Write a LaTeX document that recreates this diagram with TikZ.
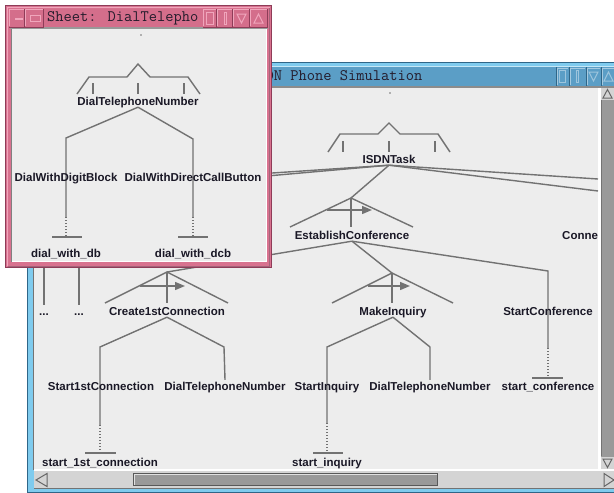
\documentclass[tikz,border=0pt]{standalone}
\usepackage{fontspec}
\usetikzlibrary{arrows.meta}
\newfontfamily\labelfont{Liberation Sans}

\definecolor{sheetbg}{HTML}{EDEDED}
\definecolor{edgegray}{HTML}{727272}
\definecolor{labeltext}{HTML}{1A1826}
\definecolor{pinkframe}{HTML}{D8728F}
\definecolor{pinktitle}{HTML}{D46E8B}
\definecolor{pinklight}{HTML}{F0A6BC}
\definecolor{pinkdark}{HTML}{8E3C58}
\definecolor{bluetitle}{HTML}{5B9EC6}
\definecolor{bluelight}{HTML}{7FCBEE}
\definecolor{bluedark}{HTML}{2F6688}
\definecolor{barbase}{HTML}{D4D4D4}
\definecolor{thumbgray}{HTML}{999999}
\definecolor{titleink}{HTML}{241C2C}

\pgfdeclarelayer{backwin}
\pgfdeclarelayer{backlines}
\pgfdeclarelayer{frontwin}
\pgfdeclarelayer{frontlines}
\pgfdeclarelayer{fronttext}
\pgfsetlayers{backwin,backlines,main,frontwin,frontlines,fronttext}

\begin{document}
\begin{tikzpicture}[x=1pt,y=-1pt,
  lbl/.style={font=\labelfont\bfseries\fontsize{11.5}{13}\selectfont, text=labeltext,
    inner xsep=0pt, inner ysep=1pt, text height=9pt, text depth=1pt},
  wintitle/.style={font=\ttfamily\fontsize{16}{16}\selectfont, text=titleink,
    inner sep=0pt, anchor=west},
  edge/.style={draw=edgegray, line width=1.4pt},
  weak/.style={draw=edgegray, line width=1.3pt, dash pattern=on 1.4pt off 1.6pt},
  seqarrow/.style={draw=edgegray, line width=1.4pt, -{Triangle[length=10pt,width=8pt]}},
  bevel/.style={line width=1pt},
]
\useasboundingbox (0,0) rectangle (614,493);

% ================= simulation window (behind) =================
\begin{pgfonlayer}{backwin}
  \fill[white] (0,0) rectangle (614,493);
  % frame
  \fill[bluelight] (27,62) rectangle (614,493);
  \draw[bluedark, line width=1pt] (27.5,493) -- (27.5,62.5) -- (614,62.5);
  \draw[bluedark, line width=1pt] (27,492.5) -- (614,492.5);
  % title bar
  \fill[bluetitle] (31,66) rectangle (614,86);
  \draw[white!55!bluelight, bevel] (31,66.5) -- (614,66.5);
  \fill[black!45] (31,86) rectangle (614,88);
  % title bar buttons
  \foreach \a/\b in {556/569, 569/586, 586/601, 601/617} {
    \draw[bluedark, bevel] (\a+0.5,67) -- (\a+0.5,85.5);
    \draw[white!45!bluetitle, bevel] (\a+1.5,84.5) -- (\a+1.5,68) -- (\b-1,68);
  }
  \draw[white!40!bluetitle, bevel] (559.5,70.5) rectangle (565.5,82.5);
  \draw[white!40!bluetitle, bevel] (576.5,70.5) rectangle (578.5,82.5);
  \draw[white!40!bluetitle, bevel] (589,72) -- (598,72) -- (593.5,81) -- cycle;
  \draw[white!40!bluetitle, bevel] (604,81) -- (613,81) -- (608.5,72) -- cycle;
  \node[wintitle] (simtitle) at (249,76) {ISDN Phone Simulation};
  % drawing area
  \fill[sheetbg] (34,88) rectangle (598,469);
  \draw[black!55, bevel] (33.5,88) -- (33.5,470);
  % vertical scrollbar
  \fill[white] (598,88) rectangle (601,470);
  \fill[thumbgray] (601,88) rectangle (614,470);
  \draw[black!55, bevel] (601.5,100) -- (601.5,456);
  \fill[barbase] (601,88) rectangle (614,100);
  \draw[black!60, bevel] (603,98) -- (612,98) -- (607.5,89.5) -- cycle;
  \fill[barbase] (601,457) rectangle (614,470);
  \draw[black!60, bevel] (603,459) -- (612,459) -- (607.5,467.5) -- cycle;
  % horizontal scrollbar
  \fill[white] (34,469) rectangle (614,471);
  \fill[barbase] (34,471) rectangle (614,489);
  \draw[black!55, bevel] (34,488.5) -- (614,488.5);
  \draw[black!60, bevel] (47,473.5) -- (36,480) -- (47,486.5) -- cycle;
  \fill[thumbgray] (133,473) rectangle (438,486);
  \draw[black!65, bevel] (133.5,473.5) rectangle (437.5,485.5);
  \draw[white!70!thumbgray, bevel] (134.5,484.5) -- (134.5,474.5) -- (436.5,474.5);
  \draw[black!60, bevel] (604,473.5) -- (614,480) -- (604,486.5) -- cycle;
\end{pgfonlayer}

% ---------- task tree in the simulation window ----------
\fill[edgegray] (390,93) circle (0.8);

\node[lbl] (isdn) at (389,159) {ISDNTask};
\node[lbl] (estab) at (352,235) {EstablishConference};
\begin{scope}
  \clip (34,88) rectangle (597,469);
  \node[lbl, anchor=west] (connect) at (562,235) {Connect};
\end{scope}
\node[lbl] (create) at (167,311) {Create1stConnection};
\node[lbl] (make) at (393,311) {MakeInquiry};
\node[lbl] (startconf) at (548,311) {StartConference};
\node[lbl] (dotsA) at (44,311) {...};
\node[lbl] (dotsB) at (79,311) {...};
\node[lbl] (startfirst) at (101,386) {Start1stConnection};
\node[lbl] (dialB) at (225,386) {DialTelephoneNumber};
\node[lbl] (startinq) at (327,386) {StartInquiry};
\node[lbl] (dialC) at (430,386) {DialTelephoneNumber};
\node[lbl] (sconf) at (548,386) {start\_conference};
\node[lbl] (sfirst) at (100,462) {start\_1st\_connection};
\node[lbl] (sinq) at (327,462) {start\_inquiry};

\coordinate (leftA) at (250,174.5);
\coordinate (leftB) at (250,177.5);
\coordinate (rightA) at (598,179);
\coordinate (rightB) at (598,191);
\coordinate (estabApex) at (351,198);
\coordinate (createApex) at (167,272);
\coordinate (makeApex) at (392,273);
\coordinate (confTop) at (548,271);
\coordinate (firstTop) at (100,347);
\coordinate (firstDots) at (100,425);
\coordinate (firstBar) at (100,453);
\coordinate (dialBTop) at (224,347);
\coordinate (inqTop) at (327,347);
\coordinate (inqDots) at (327,423);
\coordinate (inqBar) at (327,453);
\coordinate (dialCTop) at (430,347);
\coordinate (confDots) at (548,348);
\coordinate (confBar) at (548,378);
\coordinate (dotsATop) at (44,262);
\coordinate (dotsBTop) at (79,262);

\begin{pgfonlayer}{backlines}
  % alternatives bracket over the root task
  \draw[edge] (328,152) -- (340,134) -- (378,134) -- (389,123) -- (400,134) -- (438,134) -- (450,152);
  \foreach \x in {343,389,435} \draw[edge] (\x,141) -- (\x,152);
  % root task to its subtasks
  \draw[edge] (isdn.south) -- (leftA);
  \draw[edge] (isdn.south) -- (leftB);
  \draw[edge] (isdn.south) -- (rightA);
  \draw[edge] (isdn.south) -- (rightB);
  \draw[edge] (isdn.south) -- (estabApex);
  % enabling symbol of EstablishConference
  \draw[edge] (290,227) -- (estabApex) -- (413,227);
  \draw[edge] (estabApex) -- (351,227);
  \draw[seqarrow] (327,210) -- (372,210);
  \draw[edge] (estab.south) -- (createApex);
  \draw[edge] (estab.south) -- (makeApex);
  \draw[edge] (estab.south) -- (confTop) -- (confDots);
  \draw[weak] (confDots) -- (confBar);
  \draw[edge] (532,378) -- (563,378);
  % enabling symbol of Create1stConnection
  \draw[edge] (105,303) -- (createApex) -- (228,303);
  \draw[edge] (createApex) -- (167,303);
  \draw[seqarrow] (140,286) -- (185,286);
  \draw[edge] (create.south) -- (firstTop) -- (firstDots);
  \draw[weak] (firstDots) -- (firstBar);
  \draw[edge] (85,453) -- (116,453);
  \draw[edge] (create.south) -- (dialBTop) -- (dialB.north);
  % enabling symbol of MakeInquiry
  \draw[edge] (332,303) -- (makeApex) -- (453,303);
  \draw[edge] (makeApex) -- (392,303);
  \draw[seqarrow] (368,286) -- (410,286);
  \draw[edge] (make.south) -- (inqTop) -- (inqDots);
  \draw[weak] (inqDots) -- (inqBar);
  \draw[edge] (313,453) -- (343,453);
  \draw[edge] (make.south) -- (dialCTop) -- (dialC.north);
  % further subtasks, mostly hidden
  \draw[edge] (dotsATop) -- (dotsA.north);
  \draw[edge] (dotsBTop) -- (dotsB.north);
\end{pgfonlayer}

% ================= sheet window (in front) =================
\begin{pgfonlayer}{frontwin}
  \fill[pinkframe] (5,5) rectangle (272,268);
  \draw[pinkdark, line width=1pt] (5.5,5.5) rectangle (271.5,267.5);
  \draw[pinklight, line width=1.5pt] (7.5,266) -- (7.5,7.5) -- (270,7.5);
  \draw[pinkdark!80, bevel] (269.5,8) -- (269.5,266.5) -- (8,266.5);
  % title bar
  \fill[pinktitle] (9,9) rectangle (268,27);
  \fill[black!40] (10,27) rectangle (268,29);
  \foreach \a/\b in {9/25, 25/44, 203/217, 217/233, 233/250, 250/268} {
    \draw[pinkdark, bevel] (\b-0.5,9) -- (\b-0.5,27) -- (\a,27);
    \draw[pinklight, bevel] (\a+0.5,26) -- (\a+0.5,9.5) -- (\b-1,9.5);
  }
  \fill[pinklight] (15,17.5) rectangle (23,20);
  \draw[pinklight, bevel] (30.5,15.5) rectangle (40.5,21.5);
  \draw[pinklight, bevel] (206.5,12.5) rectangle (213.5,24.5);
  \draw[pinklight, bevel] (224,12.5) rectangle (226,24.5);
  \draw[pinklight, bevel] (237,14) -- (246,14) -- (241.5,23) -- cycle;
  \draw[pinklight, bevel] (254,23) -- (263,23) -- (258.5,14) -- cycle;
  \node[wintitle] (sheettitle) at (47,18.5) {Sheet: DialTelepho};
  % drawing area
  \fill[sheetbg] (12,29) rectangle (267,262);
  \draw[black!50, bevel] (11.5,262) -- (11.5,29);
  \draw[white, bevel] (12,261.5) -- (266.5,261.5) -- (266.5,29);
\end{pgfonlayer}

% ---------- task tree in the sheet window ----------
\begin{pgfonlayer}{fronttext}
  \fill[edgegray] (141,35) circle (0.8);
  \node[lbl] (dialA) at (138,101) {DialTelephoneNumber};
  \node[lbl] (digit) at (66,177) {DialWithDigitBlock};
  \node[lbl] (direct) at (193,177) {DialWithDirectCallButton};
  \node[lbl] (dwdb) at (66,253) {dial\_with\_db};
  \node[lbl] (dwdcb) at (193,253) {dial\_with\_dcb};
\end{pgfonlayer}

\coordinate (digitTop) at (66,138);
\coordinate (digitDots) at (66,217);
\coordinate (digitBar) at (66,237);
\coordinate (directTop) at (193,139);
\coordinate (directDots) at (193,217);
\coordinate (directBar) at (193,237);

\begin{pgfonlayer}{frontlines}
  \draw[edge] (77,94) -- (89,77) -- (127,77) -- (138,64) -- (150,77) -- (188,77) -- (200,94);
  \foreach \x in {93,138,184} \draw[edge] (\x,83) -- (\x,94);
  \draw[edge] (dialA.south) -- (digitTop) -- (digitDots);
  \draw[weak] (digitDots) -- (digitBar);
  \draw[edge] (52,237) -- (82,237);
  \draw[edge] (dialA.south) -- (directTop) -- (directDots);
  \draw[weak] (directDots) -- (directBar);
  \draw[edge] (178,237) -- (208,237);
\end{pgfonlayer}
\end{tikzpicture}
\end{document}
